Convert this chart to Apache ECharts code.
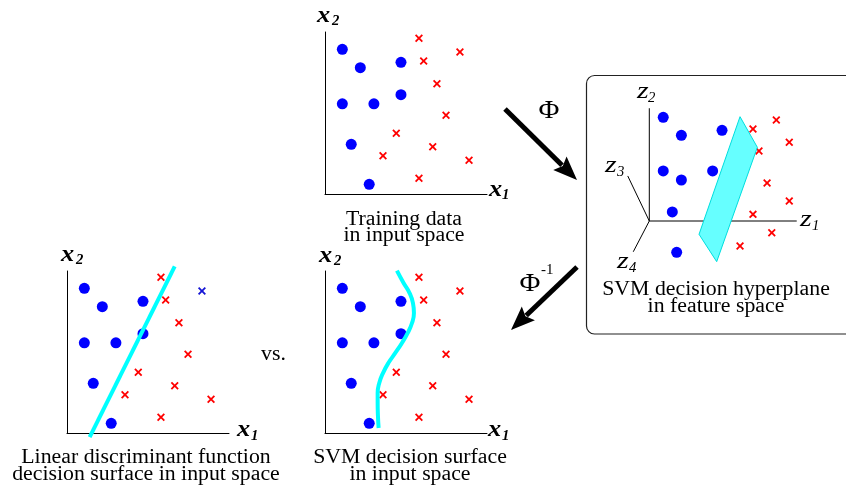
<!DOCTYPE html>
<html>
<head>
<meta charset="utf-8">
<script src="https://cdn.jsdelivr.net/npm/echarts@6/dist/echarts.min.js"></script>
<style>
html,body{margin:0;padding:0;background:#fff;}
#c{width:846px;height:486px;}
</style>
</head>
<body>
<div id="c"></div>
<script>
// ---- data (input space, axis units 0..10) ----
const classA = [[1.07,8.93],[2.18,7.80],[4.69,8.13],[1.07,5.57],[3.02,5.57],[4.69,6.13],[1.62,3.07],[2.73,0.60]];
const classB = [[5.80,9.61],[8.33,8.77],[6.09,8.21],[6.91,6.81],[7.47,4.86],[4.40,3.75],[6.65,2.92],[3.58,2.36],[8.89,2.08],[5.80,0.97]];
const misclassifiedIndex = 1; // shown as blue cross in linear panel
const linearBoundary = [[1.40,-0.25],[6.65,10.28]];
const svmBoundary = [[4.44,10.02],[4.85,9.26],[5.22,8.64],[5.43,8.02],[5.49,7.41],[5.37,6.79],[5.10,6.17],[4.75,5.56],[4.34,4.94],[3.91,4.32],[3.58,3.70],[3.35,3.09],[3.25,2.47],[3.25,1.85],[3.27,1.02],[3.31,0.31]];
// ---- feature space (projected) ----
const featA = [[0.86,6.40],[1.98,5.29],[4.49,5.60],[0.86,3.09],[1.98,2.53],[3.91,3.09],[1.42,0.56],[1.69,-1.93]];
const featB = [[6.40,5.68],[7.84,6.23],[8.64,4.86],[6.77,4.32],[7.27,2.35],[8.64,1.23],[6.40,0.41],[7.56,-0.72],[5.60,-1.54]];
const hyperplane = [[5.60,6.44],[6.67,4.55],[4.16,-2.51],[3.07,-0.82]];
const zAxisZ1 = [[0,0],[9.10,0]];
const zAxisZ2 = [[0,0],[0,6.96]];
const zAxisZ3 = [[0,0],[-1.33,2.78]];
const zAxisZ4 = [[0,0],[-0.99,-1.90]];

const SERIF = '"Liberation Serif","DejaVu Serif",serif';
const CROSS = 'path://M0,1.6L1.6,0L5,3.4L8.4,0L10,1.6L6.6,5L10,8.4L8.4,10L5,6.6L1.6,10L0,8.4L3.4,5Z';
const BLUE = '#0000ff', RED = '#ff0000', CYAN = '#00ffff';

const chart = echarts.init(document.getElementById('c'), null, {renderer:'canvas'});

function vAxis(i, show, min, max){
  return {type:'value', gridIndex:i, min:min, max:max, show:show,
    axisLine:{show:true, onZero:false, lineStyle:{color:'#000', width:1}},
    axisTick:{show:false}, axisLabel:{show:false}, splitLine:{show:false}};
}
function dots(i, data){
  return {type:'scatter', xAxisIndex:i, yAxisIndex:i, data:data, symbol:'circle', symbolSize:11,
    itemStyle:{color:BLUE, opacity:1}, z:3, silent:true};
}
function crosses(i, data, color){
  return {type:'scatter', xAxisIndex:i, yAxisIndex:i, data:data, symbol:CROSS, symbolSize:8,
    itemStyle:{color:color||RED, opacity:1}, z:3, silent:true};
}
function line(i, data, color, width, smooth, z){
  return {type:'line', xAxisIndex:i, yAxisIndex:i, data:data, showSymbol:false, symbol:'none',
    smooth:smooth, clip:false, lineStyle:{color:color, width:width}, z:z, silent:true};
}

// text helpers
function txt(x, y, text, font, align, sx){
  return {type:'text', x:x, y:y, scaleX:sx||1, z:10,
    style:{text:text, font:font, fill:'#000', textAlign:align||'center', textVerticalAlign:'middle'}};
}
function varLabel(x, y, v, s, sx, sy, bold){
  const f1 = (bold ? 'italic bold ' : 'italic ') + '24px ' + SERIF;
  const f2 = (bold ? 'italic bold ' : 'italic ') + '14px ' + SERIF;
  return [txt(x, y - 2.6, v, f1, 'left', bold ? 1.1 : 1.25), txt(sx, sy, s, f2, 'left', 1.05)];
}
function caption(cx, y, text){
  return txt(cx, y, text, '20px ' + SERIF, 'center', 1.09);
}
function arrow(x1, y1, x2, y2){
  const dx = x2 - x1, dy = y2 - y1, L = Math.hypot(dx, dy);
  const ux = dx / L, uy = dy / L, nx = -uy, ny = ux;
  const hl = 24, hw = 9.5;
  const bx = x2 - ux * hl, by = y2 - uy * hl;
  return [
    {type:'line', z:10, shape:{x1:x1, y1:y1, x2:bx + ux * 3, y2:by + uy * 3}, style:{stroke:'#000', lineWidth:5}},
    {type:'polygon', z:10, shape:{points:[[x2, y2],[bx + nx * hw, by + ny * hw],[bx + ux * 4, by + uy * 4],[bx - nx * hw, by - ny * hw]]}, style:{fill:'#000'}}
  ];
}

const redLinear = classB.filter((_, k) => k !== misclassifiedIndex);
const blueCrossLinear = [classB[misclassifiedIndex]];

const graphics = [].concat(
  [{type:'rect', z:1, shape:{x:586.5, y:75.5, width:280, height:258.5, r:8}, style:{fill:'none', stroke:'#222', lineWidth:1.2}}],
  arrow(505, 109, 577, 180),
  arrow(577, 267, 511, 330),
  [txt(549, 111, 'Φ', '26px ' + SERIF, 'center', 1.1)],
  [txt(530, 284, 'Φ', '26px ' + SERIF, 'center', 1.1), txt(541, 270, '-1', '15px ' + SERIF, 'left')],
  varLabel(317, 18, 'x', '2', 332, 21.5, true),
  varLabel(489, 192, 'x', '1', 502, 195.5, true),
  varLabel(61, 257, 'x', '2', 76, 260.5, true),
  varLabel(237, 432.5, 'x', '1', 251, 436, true),
  varLabel(319, 258, 'x', '2', 334, 261.5, true),
  varLabel(488, 432.5, 'x', '1', 502, 436, true),
  varLabel(637, 94, 'z', '2', 648, 98.5, false),
  varLabel(605, 168, 'z', '3', 617, 172.5, false),
  varLabel(800, 222.5, 'z', '1', 812, 226.5, false),
  varLabel(617, 264, 'z', '4', 629, 268.5, false),
  [caption(404, 220, 'Training data'), caption(404, 236, 'in input space')],
  [caption(146, 458, 'Linear discriminant function'), caption(146, 475, 'decision surface in input space')],
  [caption(410, 458, 'SVM decision surface'), caption(410, 475, 'in input space')],
  [caption(716, 290, 'SVM decision hyperplane'), caption(716, 306.5, 'in feature space')],
  [txt(273.5, 355, 'vs.', '20px ' + SERIF, 'center', 1.09)]
);

const option = {
  animation:false,
  backgroundColor:'#fff',
  grid:[
    {left:325, top:32, width:162, height:162},
    {left:67, top:271, width:162, height:162},
    {left:325, top:271, width:162, height:162},
    {left:600.7, top:75.2, width:226.8, height:210.6}
  ],
  xAxis:[vAxis(0,true,0,10), vAxis(1,true,0,10), vAxis(2,true,0,10), vAxis(3,false,-3,11)],
  yAxis:[vAxis(0,true,0,10), vAxis(1,true,0,10), vAxis(2,true,0,10), vAxis(3,false,-4,9)],
  series:[
    dots(0, classA), crosses(0, classB),
    dots(1, classA), crosses(1, redLinear), crosses(1, blueCrossLinear, '#1515d5'),
    line(1, linearBoundary, CYAN, 4, false, 5),
    dots(2, classA), crosses(2, classB),
    line(2, svmBoundary, CYAN, 4, true, 5),
    line(3, zAxisZ1, '#000', 1, false, 2),
    line(3, zAxisZ2, '#000', 1, false, 2),
    line(3, zAxisZ3, '#000', 1, false, 2),
    line(3, zAxisZ4, '#000', 1, false, 2),
    dots(3, featA), crosses(3, featB),
    {type:'custom', xAxisIndex:3, yAxisIndex:3, data:[[0,0]], z:6, clip:false, silent:true,
      renderItem:function(params, api){
        return {type:'polygon', shape:{points:hyperplane.map(p => api.coord(p))},
          style:{fill:'#66ffff', stroke:'#00dede', lineWidth:1}};
      }}
  ],
  graphic:graphics
};
chart.setOption(option);
</script>
</body>
</html>
